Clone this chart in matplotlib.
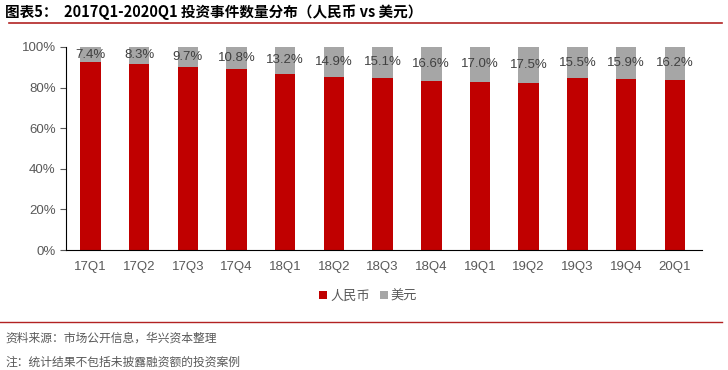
import matplotlib.pyplot as plt
import numpy as np

plt.rcParams['font.family'] = ['Noto Sans CJK SC', 'DejaVu Sans']

quarters = ['17Q1', '17Q2', '17Q3', '17Q4', '18Q1', '18Q2', '18Q3', '18Q4',
            '19Q1', '19Q2', '19Q3', '19Q4', '20Q1']
usd = [7.4, 8.3, 9.7, 10.8, 13.2, 14.9, 15.1, 16.6, 17.0, 17.5, 15.5, 15.9, 16.2]
rmb = [100 - v for v in usd]

red = '#C00000'
grey = '#A6A6A6'
txt = '#595959'

fig = plt.figure(figsize=(7.28, 3.70), dpi=100)
ax = fig.add_axes([0.0907, 0.324, 0.873, 0.549])

x = np.arange(len(quarters))
ax.bar(x, rmb, width=0.42, color=red, label='人民币')
ax.bar(x, usd, width=0.42, bottom=rmb, color=grey, label='美元')
for xi, r, u in zip(x, rmb, usd):
    ax.text(xi, r + u / 2, f'{u:.1f}%', ha='center', va='center',
            fontsize=9.5, color='#404040', family=['Liberation Sans', 'DejaVu Sans'])

ax.set_xlim(-0.5, 12.55)
ax.set_ylim(0, 100)
ax.set_yticks(range(0, 101, 20))
ax.set_yticklabels([f'{v}%' for v in range(0, 101, 20)])
ax.set_xticks(x)
ax.set_xticklabels(quarters)
for s in ['top', 'right']:
    ax.spines[s].set_visible(False)
ax.spines['left'].set_color('black')
ax.spines['bottom'].set_color('black')
ax.tick_params(axis='x', length=0, pad=8, labelsize=9.5, colors=txt)
ax.tick_params(axis='y', length=4, direction='out', labelsize=9.5, colors=txt)
for lbl in ax.get_xticklabels() + ax.get_yticklabels():
    lbl.set_family(['Liberation Sans', 'DejaVu Sans'])
    lbl.set_color(txt)

ax.legend(loc='center', ncol=2, frameon=False, fontsize=9.5, handlelength=0.6,
          handleheight=0.6, handletextpad=0.2, columnspacing=0.8, labelcolor=txt)
leg = ax.get_legend()
leg.set_bbox_to_anchor((0.506, 0.2), transform=fig.transFigure)

fig.text(0.007, 0.967, '图表5：  2017Q1-2020Q1 投资事件数量分布（人民币 vs 美元）',
         fontsize=10.5, fontweight='bold', color='black', va='center')
fig.add_artist(plt.Line2D([0.012, 0.992], [0.938, 0.938], color='#B22222', lw=1.2))
fig.add_artist(plt.Line2D([0.0, 0.992], [0.13, 0.13], color='#B22222', lw=1.0))
fig.text(0.007, 0.087, '资料来源：市场公开信息，华兴资本整理', fontsize=8.5, color=txt, va='center')
fig.text(0.007, 0.022, '注：统计结果不包括未披露融资额的投资案例', fontsize=8.5, color=txt, va='center')

fig.savefig('out.png', dpi=100)
